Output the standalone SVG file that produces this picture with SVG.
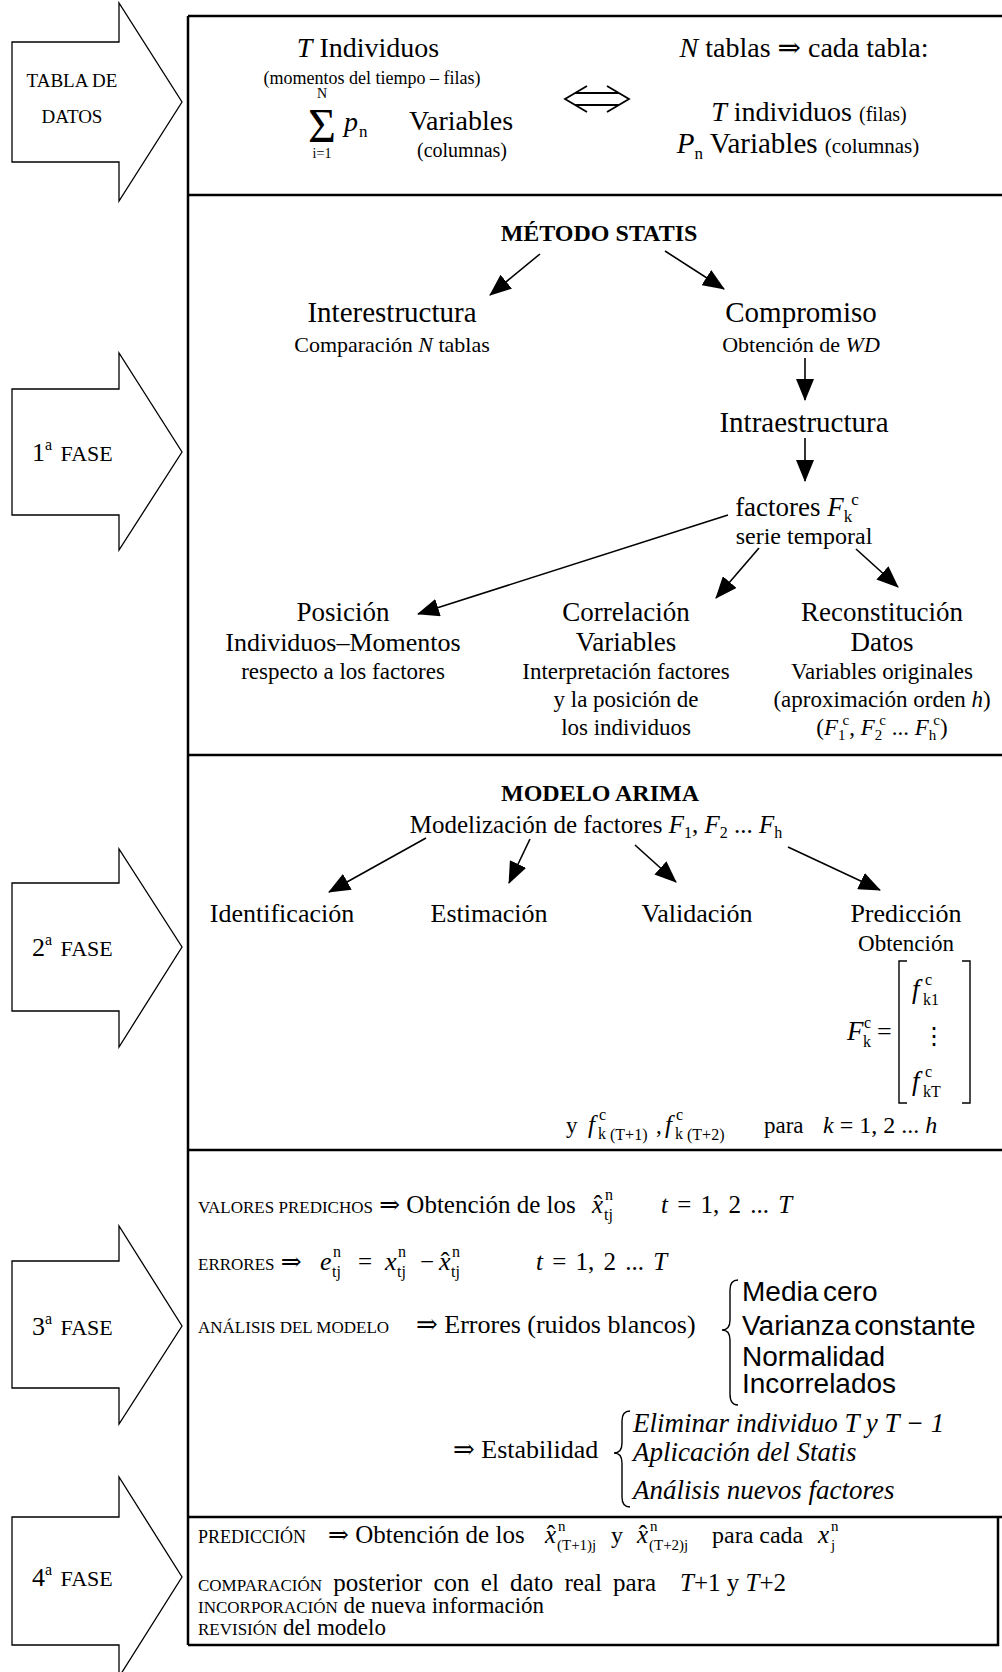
<svg xmlns="http://www.w3.org/2000/svg" width="1002" height="1672" viewBox="0 0 1002 1672">
<defs>
<style>
text{font-family:"Liberation Serif","Times New Roman","DejaVu Serif",serif;fill:#000}
.c{text-anchor:middle}
.i{font-style:italic}
.b{font-weight:bold}
.s{font-family:"Liberation Sans",Arial,sans-serif}
.fase{fill:#fff;stroke:#000;stroke-width:1.3}
.frame{fill:none;stroke:#000;stroke-width:2.5}
.con line{stroke:#000;stroke-width:1.6}
.br{fill:none;stroke:#000;stroke-width:1.4}
</style>
<marker id="ah" markerUnits="userSpaceOnUse" markerWidth="22" markerHeight="18" refX="21" refY="9" orient="auto"><path d="M0,0 L22,9 L0,18 z" fill="#000"/></marker>
</defs>
<rect width="1002" height="1672" fill="#fff"/>

<g id="frame" class="frame">
<path d="M188,16 H1003 M188,16 V1645 M188,195 H1003 M188,755 H1003 M188,1150 H1003 M188,1517 H1003"/>
<path d="M188,1645 H998 V1517"/>
</g>

<g id="fase-tabla"><polygon class="fase" points="12,42 119,42 119,3 182,102 119,201 119,162 12,162"/>
<text class="c" x="72" y="87" font-size="19">TABLA DE</text><text class="c" x="72" y="123" font-size="19">DATOS</text></g>
<g id="fase-1"><polygon class="fase" points="12,389 119,389 119,353 182,452 119,550 119,515 12,515"/>
<text x="32" y="461" font-size="26">1<tspan font-size="16" dy="-11">a</tspan><tspan font-size="22" dx="3" dy="11"> FASE</tspan></text></g>
<g id="fase-2"><polygon class="fase" points="12,883 119,883 119,849 182,947 119,1047 119,1011 12,1011"/>
<text x="32" y="956" font-size="26">2<tspan font-size="16" dy="-11">a</tspan><tspan font-size="22" dx="3" dy="11"> FASE</tspan></text></g>
<g id="fase-3"><polygon class="fase" points="12,1261 119,1261 119,1226 182,1326 119,1424 119,1388 12,1388"/>
<text x="32" y="1335" font-size="26">3<tspan font-size="16" dy="-11">a</tspan><tspan font-size="22" dx="3" dy="11"> FASE</tspan></text></g>
<g id="fase-4"><polygon class="fase" points="12,1517 119,1517 119,1477 182,1577 119,1677 119,1645 12,1645"/>
<text x="32" y="1586" font-size="26">4<tspan font-size="16" dy="-11">a</tspan><tspan font-size="22" dx="3" dy="11"> FASE</tspan></text></g>

<g id="individuos">
<text class="c" x="368" y="57" font-size="28"><tspan class="i">T</tspan> Individuos</text>
<text class="c" x="372" y="84" font-size="18">(momentos del tiempo – filas)</text>
<text class="c" x="322" y="98" font-size="14">N</text>
<text class="c" x="322" y="142" font-size="48">Σ</text>
<text class="c" x="322" y="158" font-size="14">i=1</text>
<text x="344" y="131" font-size="28" class="i">p</text><text x="359" y="137" font-size="17">n</text>
<text class="c" x="461" y="130" font-size="28">Variables</text>
<text class="c" x="462" y="157" font-size="20">(columnas)</text>
</g>
<g id="equiv"><path fill="none" stroke="#000" stroke-width="1.8" d="M587,86 L565,99 L587,112 M607,86 L629,99 L607,112 M575,93 H619 M575,105 H619"/></g>
<g id="tablas">
<text class="c" x="804" y="57" font-size="28"><tspan class="i">N</tspan> tablas ⇒ cada tabla:</text>
<text class="c" x="809" y="121" font-size="28"><tspan class="i">T</tspan> individuos <tspan font-size="20">(filas)</tspan></text>
<text class="c" x="798" y="153" font-size="29"><tspan class="i">P</tspan><tspan font-size="17" dy="6">n</tspan><tspan dy="-6"> Variables </tspan><tspan font-size="21">(columnas)</tspan></text>
</g>

<g id="metodo-statis"><text class="c b" x="599" y="241" font-size="24">MÉTODO STATIS</text></g>
<g id="interestructura"><text class="c" x="392" y="322" font-size="29">Interestructura</text>
<text class="c" x="392" y="352" font-size="22">Comparación <tspan class="i">N</tspan> tablas</text></g>
<g id="compromiso"><text class="c" x="801" y="322" font-size="29">Compromiso</text>
<text class="c" x="801" y="352" font-size="22">Obtención de <tspan class="i">WD</tspan></text></g>
<g id="intraestructura"><text class="c" x="804" y="432" font-size="29">Intraestructura</text></g>
<g id="factores"><text class="c" x="797" y="516" font-size="27">factores <tspan class="i">F</tspan><tspan font-size="17" dy="6">k</tspan><tspan font-size="17" dx="-1" dy="-17">c</tspan></text>
<text class="c" x="804" y="544" font-size="24">serie temporal</text></g>
<g id="posicion">
<text class="c" x="343" y="621" font-size="27">Posición</text>
<text class="c" x="343" y="651" font-size="26">Individuos–Momentos</text>
<text class="c" x="343" y="679" font-size="23">respecto a los factores</text></g>
<g id="correlacion">
<text class="c" x="626" y="621" font-size="27">Correlación</text>
<text class="c" x="626" y="651" font-size="27">Variables</text>
<text class="c" x="626" y="679" font-size="23">Interpretación factores</text>
<text class="c" x="626" y="707" font-size="23">y la posición de</text>
<text class="c" x="626" y="735" font-size="23">los individuos</text></g>
<g id="reconstitucion">
<text class="c" x="882" y="621" font-size="27">Reconstitución</text>
<text class="c" x="882" y="651" font-size="27">Datos</text>
<text class="c" x="882" y="679" font-size="23">Variables originales</text>
<text class="c" x="882" y="707" font-size="23">(aproximación orden <tspan class="i">h</tspan>)</text>
<text class="c" x="882" y="735" font-size="23">(<tspan class="i">F</tspan><tspan font-size="15" dy="5">1</tspan><tspan font-size="15" dx="-3" dy="-15">c</tspan><tspan dy="10">, </tspan><tspan class="i">F</tspan><tspan font-size="15" dy="5">2</tspan><tspan font-size="15" dx="-3" dy="-15">c</tspan><tspan dy="10"> ... </tspan><tspan class="i">F</tspan><tspan font-size="15" dy="5">h</tspan><tspan font-size="15" dx="-3" dy="-15">c</tspan><tspan dy="10">)</tspan></text></g>

<g id="modelo-arima"><text class="c b" x="600" y="801" font-size="24">MODELO ARIMA</text>
<text class="c" x="596" y="833" font-size="25">Modelización de  factores <tspan class="i">F</tspan><tspan font-size="16" dy="5">1</tspan><tspan dy="-5">, </tspan><tspan class="i">F</tspan><tspan font-size="16" dy="5">2</tspan><tspan dy="-5"> ... </tspan><tspan class="i">F</tspan><tspan font-size="16" dy="5">h</tspan></text></g>
<g id="identificacion"><text class="c" x="282" y="922" font-size="26">Identificación</text></g>
<g id="estimacion"><text class="c" x="489" y="922" font-size="26">Estimación</text></g>
<g id="validacion"><text class="c" x="697" y="922" font-size="26">Validación</text></g>
<g id="prediccion"><text class="c" x="906" y="922" font-size="26">Predicción</text>
<text class="c" x="906" y="951" font-size="23">Obtención</text>
<text class="i" x="847" y="1040" font-size="27">F</text><text x="864" y="1028" font-size="16">c</text><text x="863" y="1047" font-size="16">k</text>
<text x="877" y="1040" font-size="26">=</text>
<path class="br" d="M907,961 H899 V1103 H907 M962,961 H970 V1103 H962"/>
<text class="i" x="912" y="998" font-size="27">f</text><text x="925" y="985" font-size="16">c</text><text x="923" y="1005" font-size="16">k1</text>
<text class="c" x="934" y="1044" font-size="24">⋮</text>
<text class="i" x="912" y="1090" font-size="27">f</text><text x="925" y="1077" font-size="16">c</text><text x="923" y="1097" font-size="16">kT</text>
<text x="566" y="1133" font-size="23">y</text>
<text class="i" x="588" y="1133" font-size="25">f</text><text x="599" y="1120" font-size="16">c</text><text x="598" y="1139" font-size="16">k</text><text x="610" y="1140" font-size="16">(T+1)</text>
<text x="656" y="1133" font-size="23">,</text>
<text class="i" x="665" y="1133" font-size="25">f</text><text x="676" y="1120" font-size="16">c</text><text x="675" y="1139" font-size="16">k</text><text x="687" y="1140" font-size="16">(T+2)</text>
<text x="764" y="1133" font-size="23">para</text>
<text x="823" y="1133" font-size="24"><tspan class="i">k</tspan> = 1, 2 ... <tspan class="i">h</tspan></text>
</g>

<g id="valores-predichos">
<text x="198" y="1213"><tspan font-size="17">VALORES PREDICHOS</tspan><tspan font-size="25"> ⇒ Obtención de los</tspan></text>
<text class="i" x="592" y="1213" font-size="25">x</text><text class="c" x="598" y="1213" font-size="25">ˆ</text><text x="605" y="1200" font-size="16">n</text><text x="604" y="1220" font-size="16">tj</text>
<text x="661" y="1213" font-size="25" word-spacing="3"><tspan class="i">t</tspan> = 1, 2 ... <tspan class="i">T</tspan></text>
</g>
<g id="errores">
<text x="198" y="1270"><tspan font-size="17">ERRORES</tspan><tspan font-size="25"> ⇒</tspan></text>
<text class="i" x="320" y="1270" font-size="26">e</text><text x="333" y="1257" font-size="16">n</text><text x="332" y="1277" font-size="16">tj</text>
<text x="358" y="1270" font-size="25">=</text>
<text class="i" x="385" y="1270" font-size="26">x</text><text x="398" y="1257" font-size="16">n</text><text x="397" y="1277" font-size="16">tj</text>
<text x="420" y="1270" font-size="25">−</text>
<text class="i" x="439" y="1270" font-size="26">x</text><text class="c" x="445" y="1270" font-size="26">ˆ</text><text x="452" y="1257" font-size="16">n</text><text x="451" y="1277" font-size="16">tj</text>
<text x="536" y="1270" font-size="25" word-spacing="3"><tspan class="i">t</tspan> = 1, 2 ... <tspan class="i">T</tspan></text>
</g>
<g id="analisis">
<text x="198" y="1333" font-size="17">ANÁLISIS DEL MODELO</text>
<text x="416" y="1333" font-size="26">⇒ Errores (ruidos blancos)</text>
<path class="br" d="M738,1280 Q730,1280 730,1290 V1320 Q730,1330 722,1330 Q730,1330 730,1340 V1394 Q730,1405 738,1405"/>
<text class="s" x="742" y="1301" font-size="28" word-spacing="-3">Media cero</text>
<text class="s" x="742" y="1335" font-size="28" word-spacing="-4">Varianza constante</text>
<text class="s" x="742" y="1366" font-size="28">Normalidad</text>
<text class="s" x="742" y="1393" font-size="28">Incorrelados</text>
</g>
<g id="estabilidad">
<text x="453" y="1458" font-size="26">⇒ Estabilidad</text>
<path class="br" d="M630,1411 Q622,1411 622,1421 V1443 Q622,1453 614,1453 Q622,1453 622,1463 V1497 Q622,1507 630,1507"/>
<text class="i" x="633" y="1432" font-size="27">Eliminar individuo T y T − 1</text>
<text class="i" x="633" y="1461" font-size="27">Aplicación del Statis</text>
<text class="i" x="633" y="1499" font-size="27">Análisis  nuevos factores</text>
</g>

<g id="prediccion-final">
<text x="198" y="1543" font-size="18">PREDICCIÓN</text>
<text x="328" y="1543" font-size="25">⇒ Obtención de los</text>
<text class="i" x="545" y="1543" font-size="25">x</text><text class="c" x="551" y="1543" font-size="25">ˆ</text><text x="558" y="1531" font-size="15">n</text><text x="557" y="1550" font-size="15">(T+1)j</text>
<text x="611" y="1543" font-size="24">y</text>
<text class="i" x="637" y="1543" font-size="25">x</text><text class="c" x="643" y="1543" font-size="25">ˆ</text><text x="650" y="1531" font-size="15">n</text><text x="649" y="1550" font-size="15">(T+2)j</text>
<text x="712" y="1543" font-size="24">para cada</text>
<text class="i" x="818" y="1543" font-size="25">x</text><text x="831" y="1531" font-size="15">n</text><text x="831" y="1550" font-size="15">j</text>
</g>
<g id="comparacion"><text x="198" y="1591"><tspan font-size="17">COMPARACIÓN</tspan><tspan font-size="25" word-spacing="5"> posterior con el dato real para</tspan></text>
<text x="680" y="1591" font-size="25"><tspan class="i">T</tspan>+1 y <tspan class="i">T</tspan>+2</text></g>
<g id="incorporacion"><text x="198" y="1613"><tspan font-size="17">INCORPORACIÓN</tspan><tspan font-size="23"> de nueva información</tspan></text></g>
<g id="revision"><text x="198" y="1635"><tspan font-size="17">REVISIÓN</tspan><tspan font-size="23"> del modelo</tspan></text></g>

<g id="connectors" class="con">
<line x1="540" y1="254" x2="490" y2="295" marker-end="url(#ah)"/>
<line x1="665" y1="251" x2="724" y2="289" marker-end="url(#ah)"/>
<line x1="805" y1="358" x2="805" y2="400" marker-end="url(#ah)"/>
<line x1="805" y1="438" x2="805" y2="481" marker-end="url(#ah)"/>
<line x1="728" y1="515" x2="418" y2="614" marker-end="url(#ah)"/>
<line x1="759" y1="548" x2="716" y2="598" marker-end="url(#ah)"/>
<line x1="856" y1="549" x2="898" y2="587" marker-end="url(#ah)"/>
<line x1="426" y1="838" x2="329" y2="892" marker-end="url(#ah)"/>
<line x1="530" y1="839" x2="509" y2="883" marker-end="url(#ah)"/>
<line x1="635" y1="845" x2="676" y2="882" marker-end="url(#ah)"/>
<line x1="788" y1="847" x2="880" y2="890" marker-end="url(#ah)"/>
</g>
</svg>
